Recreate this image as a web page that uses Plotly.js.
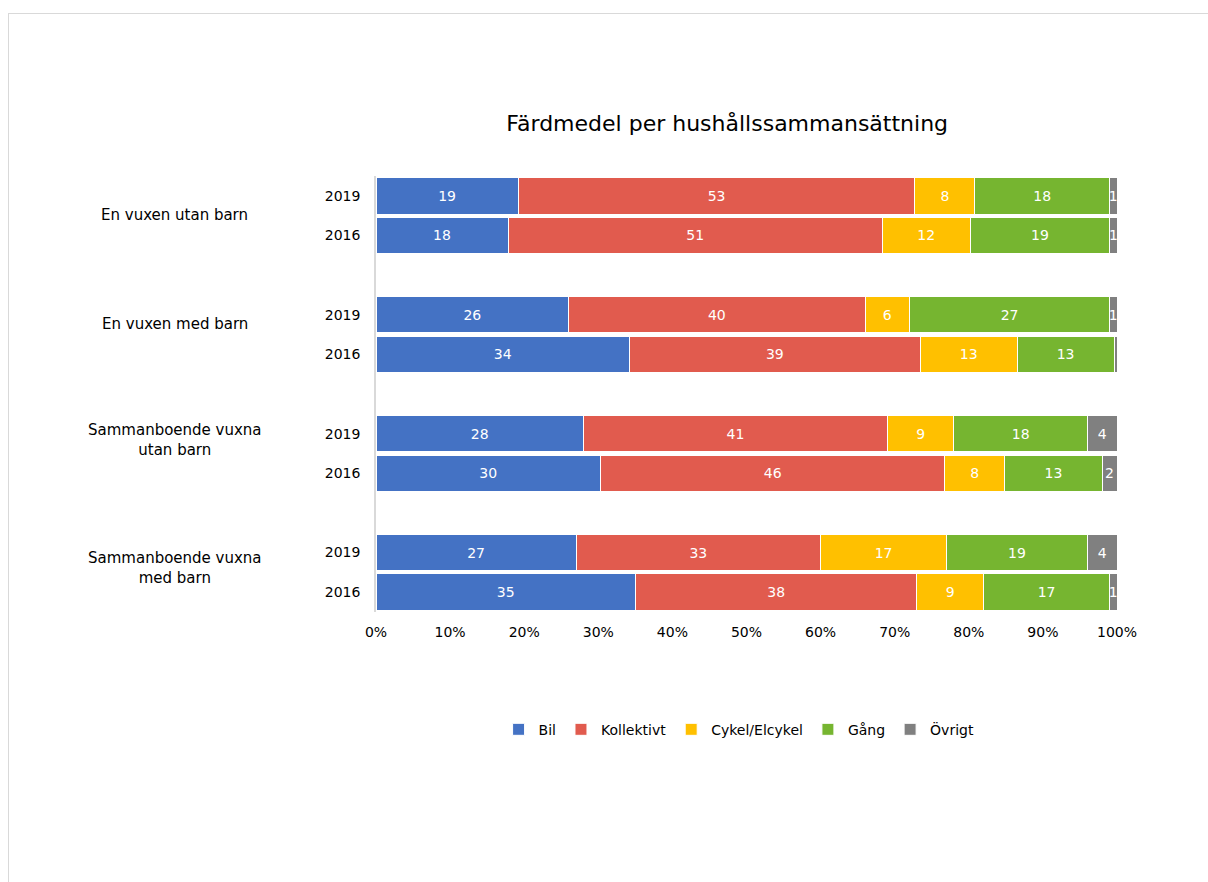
<!DOCTYPE html>
<html>
<head>
<meta charset="utf-8">
<script src="https://cdn.plot.ly/plotly-3.0.1.min.js"></script>
<style>
  html, body { margin: 0; padding: 0; background: #fff; }
  #frame { position: absolute; left: 8px; top: 13px; width: 1400px; height: 1000px; border: 1px solid #d9d9d9; }
  #chart { position: absolute; left: 0; top: 0; width: 1208px; height: 882px; }
</style>
</head>
<body>
<div id="frame"></div>
<div id="chart"></div>
<script>
const groups = ["En vuxen utan barn", "En vuxen med barn", "Sammanboende vuxna<br>utan barn", "Sammanboende vuxna<br>med barn"];
const years = ["2019", "2016"];
const seriesNames = ["Bil", "Kollektivt", "Cykel/Elcykel", "Gång", "Övrigt"];
const seriesColors = ["#4472C4", "#E15B4E", "#FFC000", "#76B530", "#808080"];
// values in order: [group0 2019, group0 2016, group1 2019, group1 2016, ...]
const bil         = [19, 18, 26, 34, 28, 30, 27, 35];
const kollektivt  = [53, 51, 40, 39, 41, 46, 33, 38];
const cykel       = [8, 12, 6, 13, 9, 8, 17, 9];
const gang        = [18, 19, 27, 13, 18, 13, 19, 17];
const ovrigt      = [1, 1, 1, 0.4, 4, 2, 4, 1];
const seriesValues = [bil, kollektivt, cykel, gang, ovrigt];

const font = "DejaVu Sans, sans-serif";
const groupLabelShift = [1, 11, 13, 4]; // vertical nudge (px) of group labels

// y positions: each group occupies 3 slots (2019, 2016, spacer)
const yPos = [];
const yText = [];
groups.forEach((g, gi) => years.forEach((yr, yi) => { yPos.push(gi * 3 + yi); yText.push(yr); }));

const traces = seriesNames.map((name, si) => ({
  type: "bar",
  orientation: "h",
  name: name,
  x: seriesValues[si],
  y: yPos,
  text: seriesValues[si].map(v => v >= 1 ? String(Math.round(v)) : ""),
  textposition: "inside",
  insidetextanchor: "middle",
  textangle: 0,
  constraintext: "none",
  textfont: { color: "#ffffff", size: 14, family: font },
  marker: { color: seriesColors[si], line: { color: "#ffffff", width: 1 } },
  hoverinfo: "x+name"
}));

const nSlots = groups.length * 3 - 1;
const annotations = groups.map((g, gi) => ({
  text: g,
  xref: "paper", yref: "y",
  x: -0.2713, y: gi * 3 + 0.5,
  yshift: groupLabelShift[gi],
  xanchor: "center", yanchor: "middle",
  showarrow: false,
  align: "center",
  font: { family: font, size: 15, color: "#000" }
}));

const layout = {
  width: 1208, height: 882,
  paper_bgcolor: "rgba(0,0,0,0)",
  plot_bgcolor: "rgba(0,0,0,0)",
  margin: { l: 376, r: 91, t: 176, b: 270 },
  barmode: "stack",
  barnorm: "percent",
  bargap: 0.08,
  title: {
    text: "Färdmedel per hushållssammansättning",
    x: 0.602, xanchor: "center", xref: "container",
    y: 0.86, yanchor: "middle", yref: "container",
    font: { family: font, size: 22, color: "#000" }
  },
  xaxis: {
    range: [0, 100], dtick: 10, ticksuffix: "%",
    showgrid: false, zeroline: false, showline: false,
    ticks: "", ticklen: 0, ticklabelstandoff: 10,
    tickfont: { family: font, size: 14, color: "#000" },
    fixedrange: true
  },
  yaxis: {
    range: [nSlots - 0.5, -0.5],
    tickvals: yPos, ticktext: yText,
    showgrid: false, zeroline: false,
    showline: true, linecolor: "#d9d9d9", linewidth: 1.5,
    ticks: "", ticklabelstandoff: 11,
    tickfont: { family: font, size: 14, color: "#000" },
    fixedrange: true
  },
  showlegend: true,
  legend: {
    orientation: "h",
    x: 0.49, xanchor: "center",
    y: -0.27, yanchor: "middle",
    font: { family: font, size: 14, color: "#000" },
    itemclick: false, itemdoubleclick: false,
    traceorder: "normal"
  },
  annotations: annotations
};

Plotly.newPlot("chart", traces, layout, { displayModeBar: false, responsive: false });
</script>
</body>
</html>
